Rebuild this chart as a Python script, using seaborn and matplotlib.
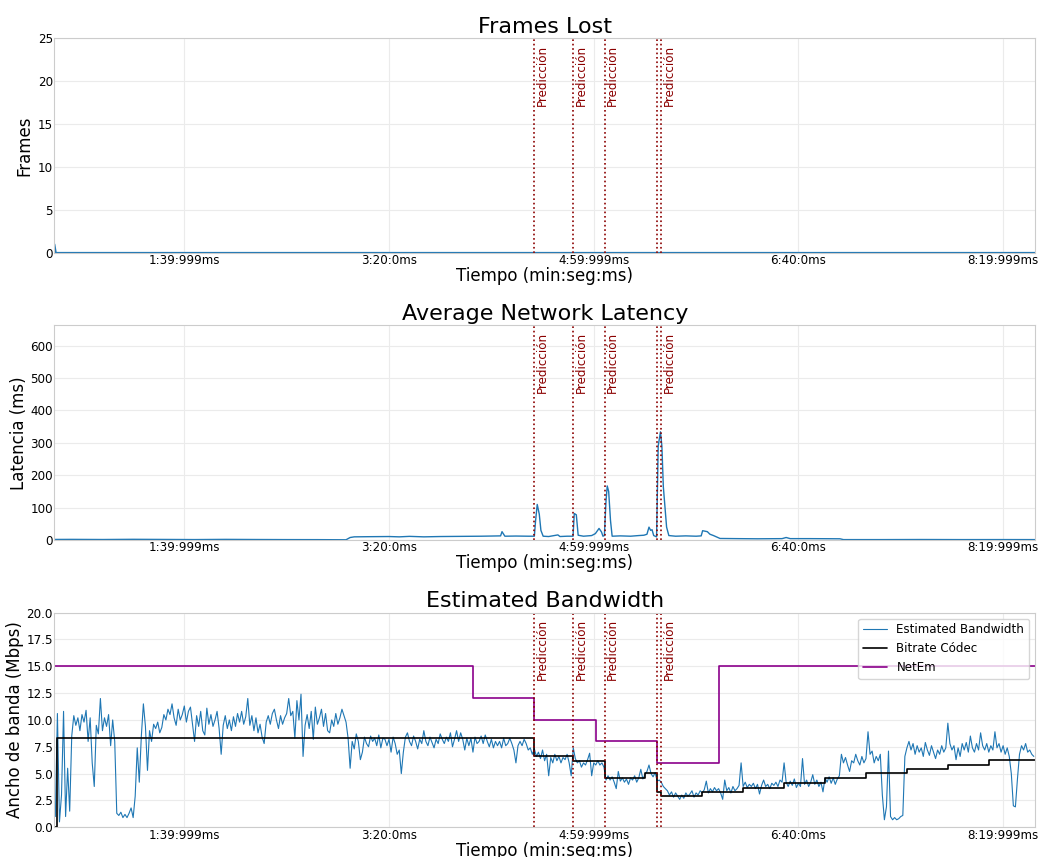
import numpy as np
import seaborn as sns
import matplotlib.pyplot as plt

# tiempo en segundos desde el inicio del experimento
x_min, x_max = 36.5, 515.6
tick_pos = [100, 200, 300, 400, 500]
tick_labels = ['1:39:999ms', '3:20:0ms', '4:59:999ms', '6:40:0ms', '8:19:999ms']

predicciones = [271.0, 289.9, 305.4, 331.1, 333.0]
pred_labels = ['Predicción', 'Predicción', 'Predicción', '', 'Predicción']

frames_t = [36.5, 37.2, 515.6]
frames_v = [1.0, 0, 0]

lat_t = [36.5, 45, 60, 75, 90, 105, 120, 135, 150, 165, 179, 181, 183, 190, 200, 205, 210, 217,
         225, 235, 245, 250, 254.5, 255.2, 256.0, 256.6, 262, 268, 271.0, 271.6, 272.4, 273.4,
         274.2, 275.3, 278, 282.5, 283.5, 287, 289.9, 290.5, 291.5, 292.4, 295, 299, 300.8,
         302.6, 303.8, 304.5, 305.2, 306.0, 306.6, 307.3, 308.2, 309.0, 313, 318, 322, 324.5,
         326.0, 327.0, 327.8, 328.5, 329.3, 330.7, 331.5, 332.6, 333.3, 334.0, 335.6, 336.7,
         340, 345, 350, 352.5, 353.2, 355.5, 356.8, 358.5, 361.7, 370, 380, 392, 394, 396, 405,
         415, 420.3, 422, 440, 460, 480, 500, 515.6]
lat_v = [2.0, 2.2, 1.8, 2.4, 2.0, 1.6, 2.2, 1.8, 1.5, 1.4, 1.0, 8, 10, 10.5, 11, 10, 11.5, 10,
         11, 11.5, 12, 12.5, 13, 26, 18, 12, 12.5, 12, 12, 60, 110, 80,
         30, 12, 11, 16, 11, 12, 12, 82, 78, 15, 12, 14, 20,
         36, 25, 12, 14, 120, 167, 150, 60, 12, 13, 12, 14, 15,
         18, 40, 30, 32, 14, 10, 290, 334, 290, 165, 40, 14,
         12, 13, 12, 13, 29, 26, 18, 14, 5, 4.5, 4, 4.5, 8, 4.5, 4.5,
         4.2, 4, 1.5, 1.5, 1.8, 1.5, 1.6, 1.5]

# ancho de banda estimado, una muestra por segundo desde t=37
bw_t0 = 37
bw = [1.0, 10.6, 0.5, 3.0, 10.8, 1.0, 5.5, 1.5, 8.5, 10.4,
      9.5, 10.2, 9.0, 10.5, 9.8, 10.9, 8.0, 10.2, 6.0, 3.8,
      9.5, 8.7, 12.0, 9.0, 10.2, 9.4, 10.5, 7.6, 10.0, 8.0,
      1.3, 1.1, 1.4, 0.9, 1.2, 0.9, 1.3, 1.8, 0.9, 2.9,
      7.4, 4.2, 8.5, 11.5, 9.4, 5.3, 9.0, 8.0, 9.6, 9.2,
      9.8, 8.8, 9.3, 10.5, 10.0, 11.0, 10.5, 11.5, 10.2, 9.5,
      11.0, 10.0, 10.5, 11.3, 9.8, 10.8, 11.2, 9.6, 8.0, 10.4,
      9.4, 10.8, 9.0, 8.6, 11.1, 9.6, 10.5, 9.4, 10.0, 10.8,
      9.2, 6.8, 9.5, 10.4, 9.2, 10.0, 9.0, 10.3, 9.4, 10.6,
      9.8, 10.8, 9.6, 10.3, 12.0, 9.5, 10.4, 9.0, 10.2, 8.8,
      9.6, 8.4, 7.8, 9.8, 10.4, 9.6, 10.6, 11.0, 10.0, 9.2,
      10.4, 9.6, 10.2, 10.6, 12.0, 10.4, 10.8, 8.3, 11.8, 10.0,
      12.4, 6.6, 9.5, 10.5, 9.2, 10.8, 8.2, 11.2, 9.6, 10.2,
      11.0, 9.4, 10.6, 9.0, 8.8, 10.0, 9.4, 10.6, 9.6, 10.2,
      11.0, 10.4, 9.8, 8.3, 5.5, 8.0, 7.3, 8.7, 8.0, 6.3,
      7.0, 8.4, 7.8, 7.5, 8.5, 8.0, 8.3, 7.6, 8.6, 7.4,
      8.3, 8.2, 7.6, 8.2, 7.0, 8.4, 7.8, 6.8, 7.2, 5.0,
      7.0, 8.4, 8.8, 8.0, 7.6, 8.5, 8.0, 7.3, 8.2, 7.8,
      9.0, 8.0, 7.6, 8.4, 7.9, 7.4, 8.2, 7.8, 8.7, 8.2,
      7.8, 8.4, 8.0, 8.8, 7.5, 8.2, 9.0, 8.0, 8.8, 8.2,
      7.2, 8.3, 7.6, 8.3, 7.0, 8.4, 7.8, 8.0, 8.5, 7.8,
      8.6, 8.0, 7.5, 8.2, 7.4, 8.0, 7.6, 8.0, 7.4, 8.3,
      7.6, 7.8, 8.3, 7.8, 7.2, 6.0, 7.6, 8.0, 7.6, 8.2,
      7.8, 7.2, 7.4, 6.8, 7.3, 6.6, 7.0, 6.4, 7.2, 6.2,
      6.8, 4.8, 6.5, 6.0, 6.8, 6.2, 6.6, 6.0, 6.5, 6.3,
      6.8, 6.0, 4.8, 7.4, 6.4, 6.0, 6.2, 5.6, 6.0, 5.8,
      6.3, 6.9, 4.8, 6.0, 5.8, 6.2, 5.8, 6.0, 5.6, 4.4,
      4.8, 4.4, 4.7, 4.2, 3.6, 5.2, 4.3, 4.6, 4.2, 4.5,
      4.0, 4.6, 4.4, 4.8, 4.2, 4.6, 5.4, 4.5, 4.9, 5.2,
      5.8, 5.0, 4.7, 5.1, 4.3, 4.4, 4.2, 3.8, 3.6, 3.4,
      3.0, 3.3, 2.8, 3.2, 2.9, 2.6, 3.0, 2.7, 3.2, 2.9,
      3.1, 3.4, 2.8, 3.2, 3.0, 3.4, 3.2, 3.5, 4.3, 3.2,
      3.6, 3.3, 3.7, 3.4, 3.6, 3.2, 2.6, 4.4, 3.4, 3.7,
      3.2, 3.8, 3.4, 3.6, 3.9, 6.0, 3.8, 4.2, 3.7, 4.0,
      3.8, 4.1, 3.6, 4.0, 3.1, 3.9, 4.4, 3.8, 4.0, 3.6,
      4.1, 3.9, 4.2, 3.8, 4.4, 4.2, 6.0, 4.2, 3.8, 4.3,
      3.9, 4.5, 3.7, 4.1, 3.8, 6.4, 4.0, 4.4, 3.8, 4.2,
      4.9, 4.0, 4.4, 3.8, 4.2, 3.3, 4.6, 4.2, 4.7, 4.1,
      4.6, 4.0, 4.5, 4.8, 6.8, 6.0, 6.5, 5.8, 5.2, 6.2,
      6.0, 6.8, 6.2, 5.8, 6.6, 6.0, 6.4, 8.9, 6.8, 7.1,
      6.0, 6.6, 6.2, 6.8, 3.0, 0.7, 1.9, 7.1, 1.0, 0.7,
      0.9, 0.7, 0.8, 1.0, 1.1, 6.6, 7.4, 8.0, 7.2, 7.8,
      6.8, 7.6, 7.0, 7.4, 6.6, 7.9, 7.2, 6.7, 7.6, 7.0,
      6.4, 7.2, 6.8, 7.6, 7.0, 7.4, 9.7, 7.8, 7.2, 7.6,
      6.3, 7.4, 6.6, 7.8, 7.2, 7.9, 7.0, 8.5, 7.4, 7.0,
      7.8, 7.2, 8.8, 7.6, 7.2, 7.8, 7.0, 7.6, 7.2, 8.9,
      7.4, 7.8, 7.0, 7.6, 6.8, 7.4, 6.6, 5.0, 2.0, 1.9,
      4.5, 6.8, 7.6, 7.2, 7.8, 7.0, 7.2, 6.8, 6.6]
bw_t = bw_t0 + np.arange(len(bw))

codec_t = [36.5, 37.6, 271, 290, 305.5, 325, 331, 333, 353, 373, 393, 413, 433, 453, 473, 493, 515.6]
codec_v = [0, 8.35, 6.65, 6.2, 4.6, 5.05, 3.3, 2.87, 3.3, 3.7, 4.17, 4.58, 5.02, 5.42, 5.82, 6.23, 6.23]

netem_t = [36.5, 241, 271, 301, 331, 361, 515.6]
netem_v = [15, 12, 10, 8, 6, 15, 15]

sns.set_style('whitegrid', {'grid.color': '#ebebeb', 'axes.edgecolor': '#cccccc',
                            'text.color': 'black', 'axes.labelcolor': 'black',
                            'xtick.color': 'black', 'ytick.color': 'black'})
plt.rcParams['font.family'] = ['DejaVu Sans']

fig, axes = plt.subplots(3, 1, figsize=(10.39, 8.57), dpi=100)
plt.subplots_adjust(left=0.0523, right=0.9962, bottom=0.0347, top=0.9553, hspace=0.338)

sns.lineplot(x=frames_t, y=frames_v, ax=axes[0], color='tab:blue', lw=1.5)
axes[0].set_ylim(0, 25)
axes[0].set_title('Frames Lost', fontsize=16, pad=4)
axes[0].set_ylabel('Frames', fontsize=12, labelpad=3)

sns.lineplot(x=lat_t, y=lat_v, ax=axes[1], color='tab:blue', lw=1.0)
axes[1].set_ylim(0, 662)
axes[1].set_title('Average Network Latency', fontsize=16, pad=4)
axes[1].set_ylabel('Latencia (ms)', fontsize=12, labelpad=2)

ax = axes[2]
sns.lineplot(x=bw_t, y=bw, ax=ax, color='tab:blue', lw=0.8, label='Estimated Bandwidth')
sns.lineplot(x=codec_t, y=codec_v, ax=ax, color='black', lw=1.2, drawstyle='steps-post',
             label='Bitrate Códec')
sns.lineplot(x=netem_t, y=netem_v, ax=ax, color='darkmagenta', lw=1.2, drawstyle='steps-post',
             label='NetEm')
ax.set_ylim(0, 20)
ax.set_yticks(np.arange(0, 20.1, 2.5))
ax.set_title('Estimated Bandwidth', fontsize=16, pad=4)
ax.set_ylabel('Ancho de banda (Mbps)', fontsize=12, labelpad=2)
ax.legend(loc='upper right', fontsize=8.6)

for ax in axes:
    ax.set_xlim(x_min, x_max)
    ax.set_xticks(tick_pos)
    ax.set_xticklabels(tick_labels)
    ax.tick_params(labelsize=8.6, length=0, pad=1)
    ax.set_xlabel('Tiempo (min:seg:ms)', fontsize=12, labelpad=0)
    for p, lab in zip(predicciones, pred_labels):
        ax.axvline(p, color='darkred', linestyle=':', lw=1.2)
        if lab:
            ax.text(p + 0.7, 0.97, lab, rotation=90, va='top', ha='left',
                    color='darkred', fontsize=8.6, transform=ax.get_xaxis_transform())

plt.savefig('out.png', dpi=100)
